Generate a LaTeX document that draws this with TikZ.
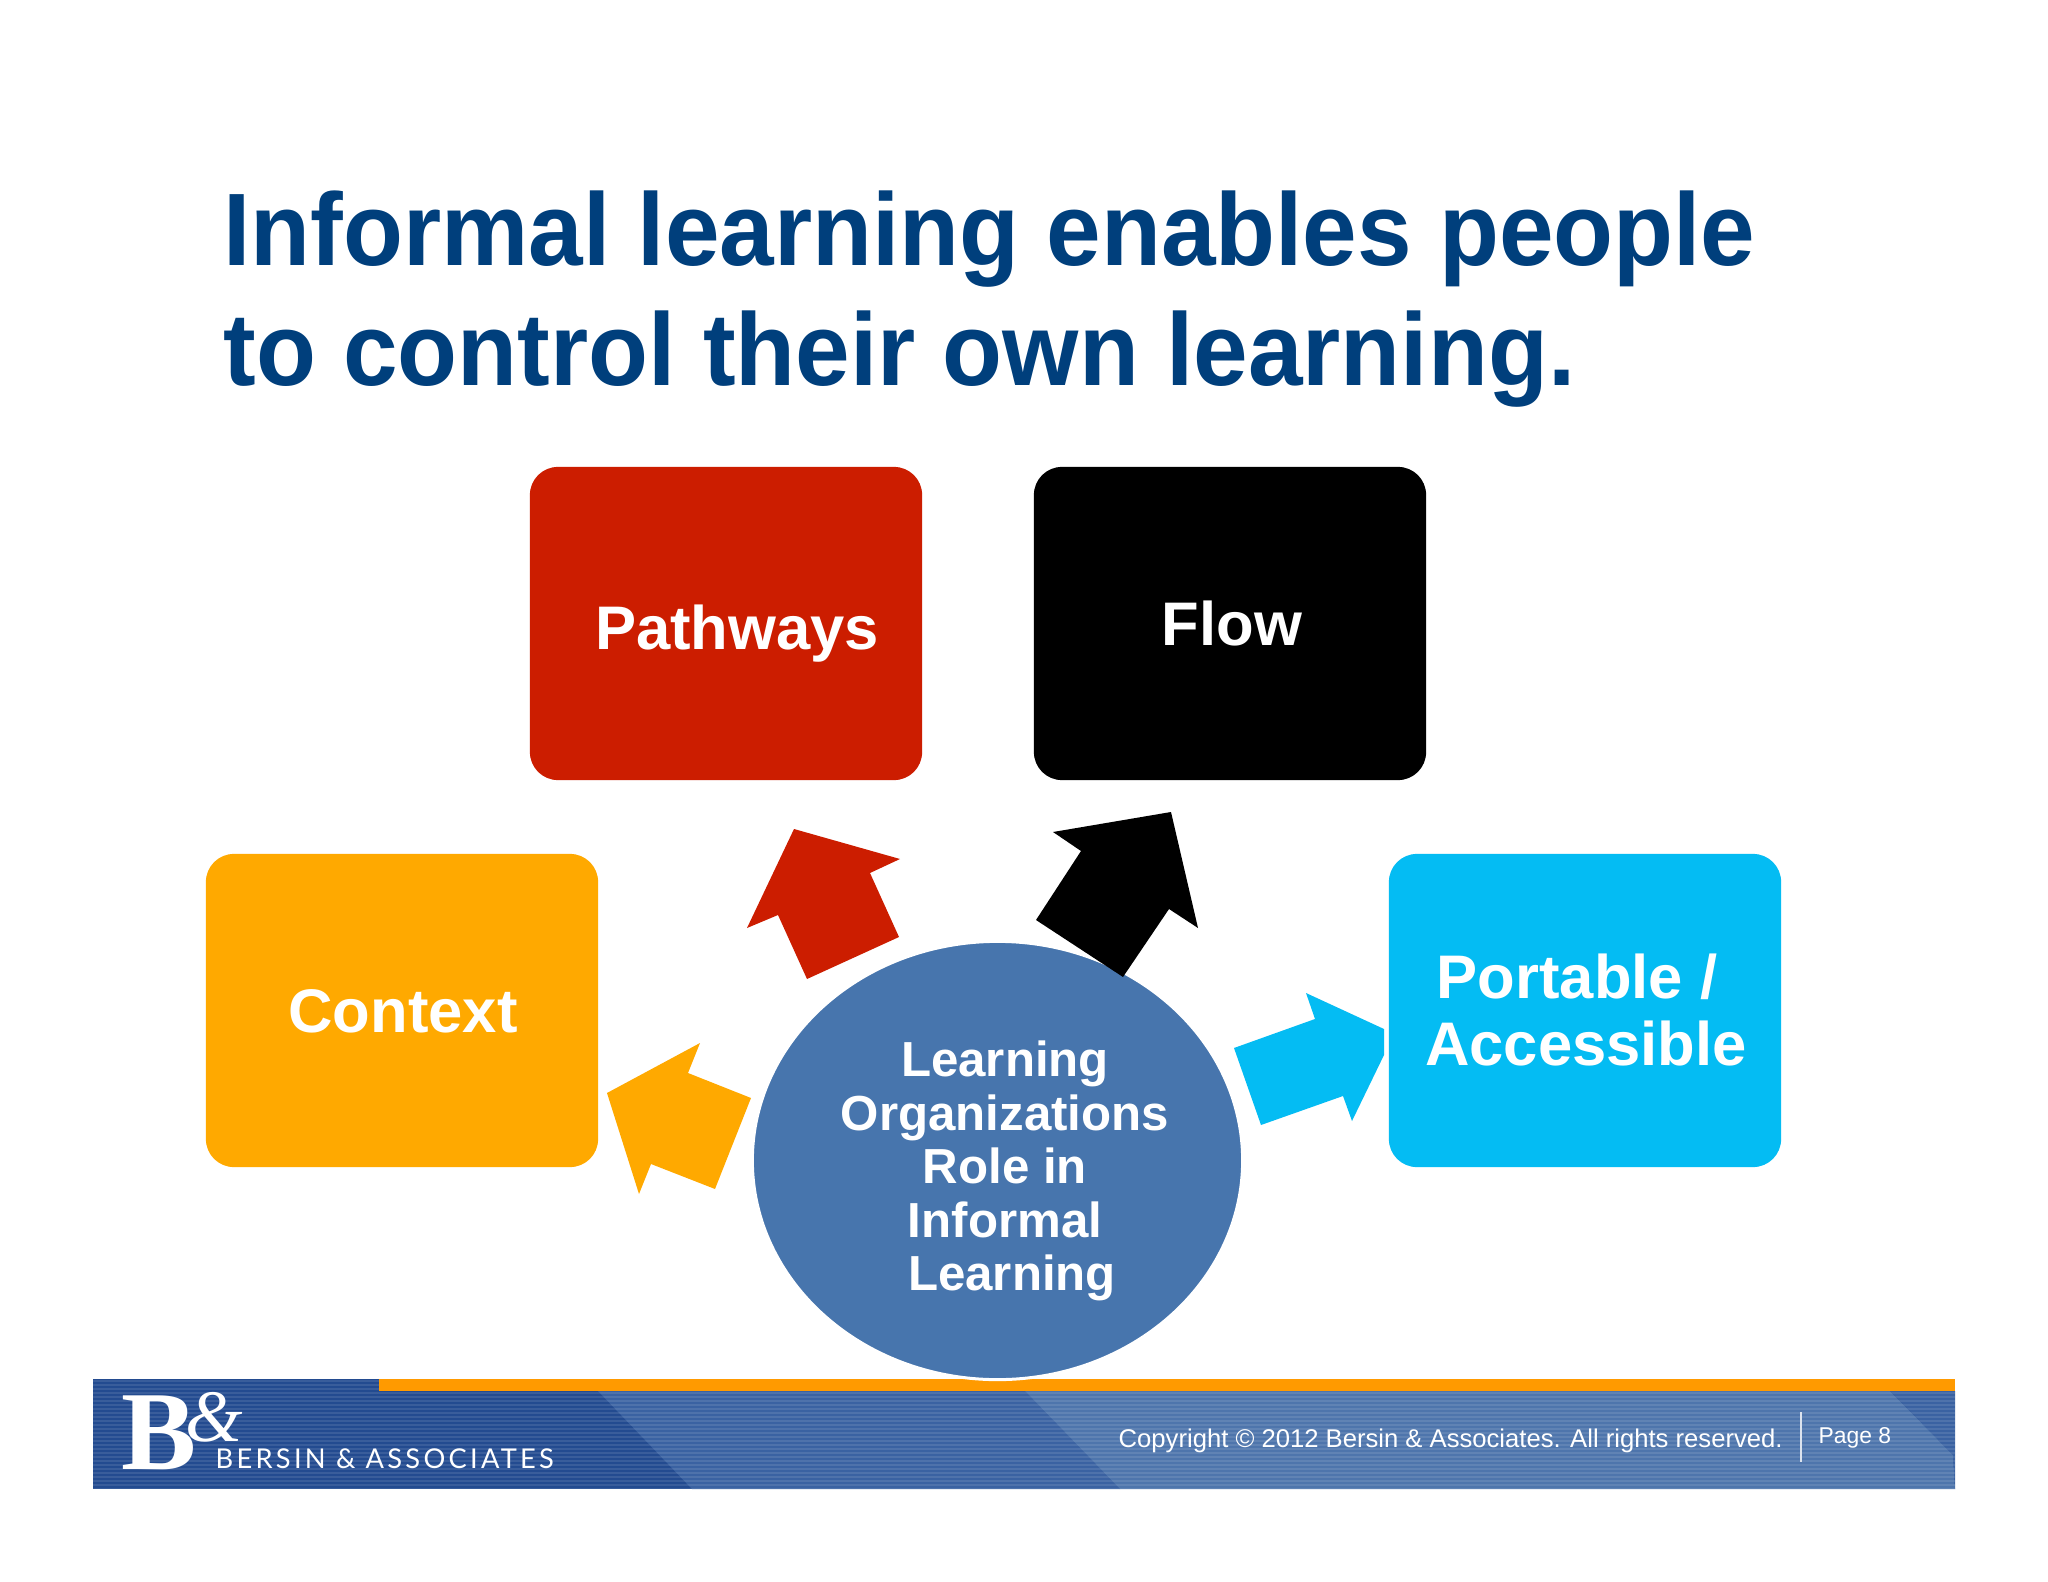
\documentclass[tikz,border=0pt]{standalone}
\usepackage{fontspec}
\setmainfont{Liberation Sans}
\newfontfamily\logoserif{Liberation Serif}
\newfontfamily\logosans[LetterSpace=12]{Lato}
\usetikzlibrary{shapes.geometric}
\definecolor{titleblue}{HTML}{003F7C}
\definecolor{pathred}{HTML}{CC1D00}
\definecolor{contextorange}{HTML}{FFA900}
\definecolor{portablecyan}{HTML}{04BCF3}
\definecolor{roleblue}{HTML}{4775AD}
\definecolor{bardark}{HTML}{234B90}
\definecolor{barmid}{HTML}{3A62A2}
\definecolor{barlight}{HTML}{4E75AC}
\definecolor{barorange}{HTML}{FF9A00}
\tikzset{
  box/.style={rectangle, rounded corners=0.28cm, minimum width=3.92cm, minimum height=3.13cm, inner sep=0pt},
  boxtext/.style={text=white, font=\fontsize{17.5}{17.5}\selectfont\bfseries, align=center, inner sep=0pt},
  foot/.style={text=white, inner sep=0pt, anchor=base west}
}
\begin{document}
\begin{tikzpicture}[x=0.01cm, y=-0.01cm]
\useasboundingbox (0,0) rectangle (2048,1582);
\fill [white] (0,0) rectangle (2048,1582);
% title
\node (title) [anchor=north west, inner sep=0pt, text=titleblue, align=left, xscale=0.952, transform shape, font=\fontsize{29.3}{34.1}\selectfont\bfseries] at (223,190) {Informal learning enables people\\to control their own learning.};
% boxes
\node (pathways) [box, fill=pathred] at (726,623.5) {};
\node (flow) [box, fill=black] at (1230,623.5) {};
\node (context) [box, fill=contextorange] at (402,1010.5) {};
\node (portable) [box, fill=portablecyan] at (1585,1010.5) {};
\node (pathwaystext) [boxtext] at (737,634) {Pathways};
\node (flowtext) [boxtext] at (1232,624) {Flow};
\node (contexttext) [boxtext] at (403,1011) {Context};
\node (portabletext) [boxtext, font=\fontsize{17.5}{19}\selectfont\bfseries] at (1586,1010) {Portable /\hspace*{0.18cm}\\Accessible};
% block arrows
\fill [pathred] (794,829)--(900,859)--(870,873)--(899,937)--(807,979)--(778,915)--(747,928)--cycle;
\fill [contextorange] (700,1043)--(607,1093)--(639,1194)--(651,1164)--(715,1189)--(751,1098)--(688,1073)--cycle;
\fill [portablecyan] (1306,993)--(1384,1029)--(1384,1055)--(1352,1121)--(1343,1096)--(1261,1125)--(1234,1048)--(1315,1019)--cycle;
% footer
\fill [bardark] (93,1379) rectangle (1955,1489);
\fill [barmid] (598,1391)--(1025,1391)--(1120,1489)--(692,1489)--cycle;
\fill [barlight] (1025,1391)--(1890,1391)--(1953,1455)--(1955,1489)--(1120,1489)--cycle;
\fill [barmid] (1890,1391)--(1955,1391)--(1955,1489)--(1953,1455)--cycle;
\foreach \y in {1381,1385,...,1489}
  \draw [white, opacity=0.1, line width=0.012cm] (93,\y) -- (1955,\y);
\fill [barorange] (379,1379) rectangle (1955,1391);
\node (logob) [foot, font=\logoserif\bfseries\fontsize{32}{32}\selectfont] at (121,1469) {B};
\node (logoand) [foot, font=\logoserif\itshape\fontsize{21}{21}\selectfont] at (185,1441) {\&};
\node (logoname) [foot, font=\logosans\fontsize{7.75}{7.75}\selectfont] at (215,1468) {BERSIN \& ASSOCIATES};
\node (copyright) [foot, font=\fontsize{7.29}{7.29}\selectfont] at (1118,1447) {Copyright © 2012 Bersin \& Associates. All rights reserved.};
\node (page) [foot, font=\fontsize{6.5}{6.5}\selectfont] at (1818,1443) {Page 8};
\coordinate (septop) at (1801,1412);
\coordinate (sepbottom) at (1801,1462);
\draw [white!80!barlight, line width=0.015cm] (septop) -- (sepbottom);
% centre
\node (role) [ellipse, draw=white, line width=0.03cm, fill=roleblue, minimum width=4.9cm, minimum height=4.38cm, inner sep=0pt] at (997.5,1160.5) {};
\node (roletext) [text=white, align=center, inner sep=0pt, font=\fontsize{14}{15.2}\selectfont\bfseries] at (1005,1171) {Learning\\Organizations\\Role in\\Informal\\\hspace*{0.14cm}Learning};
\fill [black] (1171,812)--(1053,832)--(1081,851)--(1036,920)--(1123,977)--(1169,909)--(1198,928)--cycle;
\end{tikzpicture}
\end{document}
